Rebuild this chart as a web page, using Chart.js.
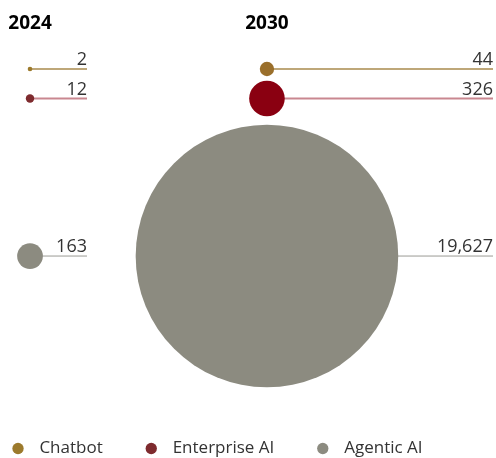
<!DOCTYPE html>
<html>
<head>
<meta charset="utf-8">
<script src="https://cdn.jsdelivr.net/npm/chart.js@4"></script>
<style>
  html, body { margin: 0; padding: 0; background: #fff; }
  #wrap { width: 496px; height: 458px; }
</style>
</head>
<body>
<div id="wrap"><canvas id="myChart"></canvas></div>
<script>
// data
var years = [2024, 2030];
var seriesNames = ['Chatbot', 'Enterprise AI', 'Agentic AI'];
var chatbot = [2, 44];
var enterpriseAI = [12, 326];
var agenticAI = [163, 19627];
// row of each series (top to bottom)
var rows = [0, 1, 6.34];

function bubbleRadius(v) { return 0.93 * Math.sqrt(v) + 1; }
function toPoints(values, row) {
  return values.map(function (v, i) {
    return { x: years[i], y: row, r: bubbleRadius(v), v: v };
  });
}

var lineEnds = [87, 493];

var leaderLines = {
  id: 'leaderLines',
  afterLayout: function (chart) {
    // legend starts near the left edge, items keep their spacing
    chart.legend.left -= 30.5;
    chart.legend.top += 9;
  },
  beforeDatasetsDraw: function (chart) {
    var ctx = chart.ctx;
    chart.data.datasets.forEach(function (ds, di) {
      chart.getDatasetMeta(di).data.forEach(function (pt, i) {
        ctx.save();
        ctx.strokeStyle = ds.lineColor;
        ctx.lineWidth = ds.lineWidth;
        ctx.beginPath();
        ctx.moveTo(pt.x, pt.y);
        ctx.lineTo(lineEnds[i], pt.y);
        ctx.stroke();
        ctx.restore();
      });
    });
  },
  afterDatasetsDraw: function (chart) {
    var ctx = chart.ctx;
    chart.data.datasets.forEach(function (ds, di) {
      chart.getDatasetMeta(di).data.forEach(function (pt, i) {
        ctx.save();
        ctx.fillStyle = '#333333';
        ctx.font = '18px "Open Sans", sans-serif';
        ctx.textAlign = 'right';
        ctx.textBaseline = 'alphabetic';
        ctx.fillText(ds.data[i].v.toLocaleString('en-US'), lineEnds[i], pt.y - 4);
        ctx.restore();
      });
    });
  }
};

var ctx = document.getElementById('myChart').getContext('2d');
Chart.defaults.font.family = '"Open Sans", sans-serif';
var myChart = new Chart(ctx, {
  type: 'bubble',
  data: {
    datasets: [{
      label: seriesNames[0],
      data: toPoints(chatbot, rows[0]),
      backgroundColor: ['#9c7a2c', '#9a6f2b'],
      lineColor: '#a88a4c',
      lineWidth: 1.5,
      borderWidth: 0,
      clip: false
    }, {
      label: seriesNames[1],
      data: toPoints(enterpriseAI, rows[1]),
      backgroundColor: ['#7e2b2e', '#8a0011'],
      lineColor: '#c98790',
      lineWidth: 2,
      borderWidth: 0,
      clip: false
    }, {
      label: seriesNames[2],
      data: toPoints(agenticAI, rows[2]),
      backgroundColor: '#8c8b80',
      lineColor: '#9a9a94',
      lineWidth: 1,
      borderWidth: 0,
      clip: false
    }]
  },
  options: {
    responsive: true,
    maintainAspectRatio: false,
    animation: false,
    layout: { autoPadding: false, padding: { top: 8, left: 0, right: 0, bottom: 0 } },
    plugins: {
      tooltip: { enabled: false },
      legend: {
        display: true,
        position: 'bottom',
        align: 'start',
        labels: {
          color: '#333333',
          font: { size: 17 },
          usePointStyle: true,
          pointStyle: 'circle',
          boxWidth: 17,
          boxHeight: 8,
          padding: 40,
          generateLabels: function (chart) {
            var items = Chart.defaults.plugins.legend.labels.generateLabels(chart);
            items.forEach(function (it) { it.text = ' ' + it.text; });
            return items;
          }
        }
      }
    },
    scales: {
      x: {
        type: 'linear',
        position: 'top',
        min: 2023.24,
        max: 2035.8,
        afterBuildTicks: function (scale) {
          scale.ticks = years.map(function (y) { return { value: y }; });
        },
        ticks: {
          color: '#000000',
          font: { size: 19, weight: 'bold' },
          padding: 4,
          autoSkip: false,
          maxRotation: 0,
          callback: function (v) { return String(v); }
        },
        grid: { display: false, drawTicks: false },
        border: { display: false }
      },
      y: {
        display: false,
        reverse: true,
        min: -1.024,
        max: 10.915
      }
    }
  },
  plugins: [leaderLines]
});
</script>
</body>
</html>
